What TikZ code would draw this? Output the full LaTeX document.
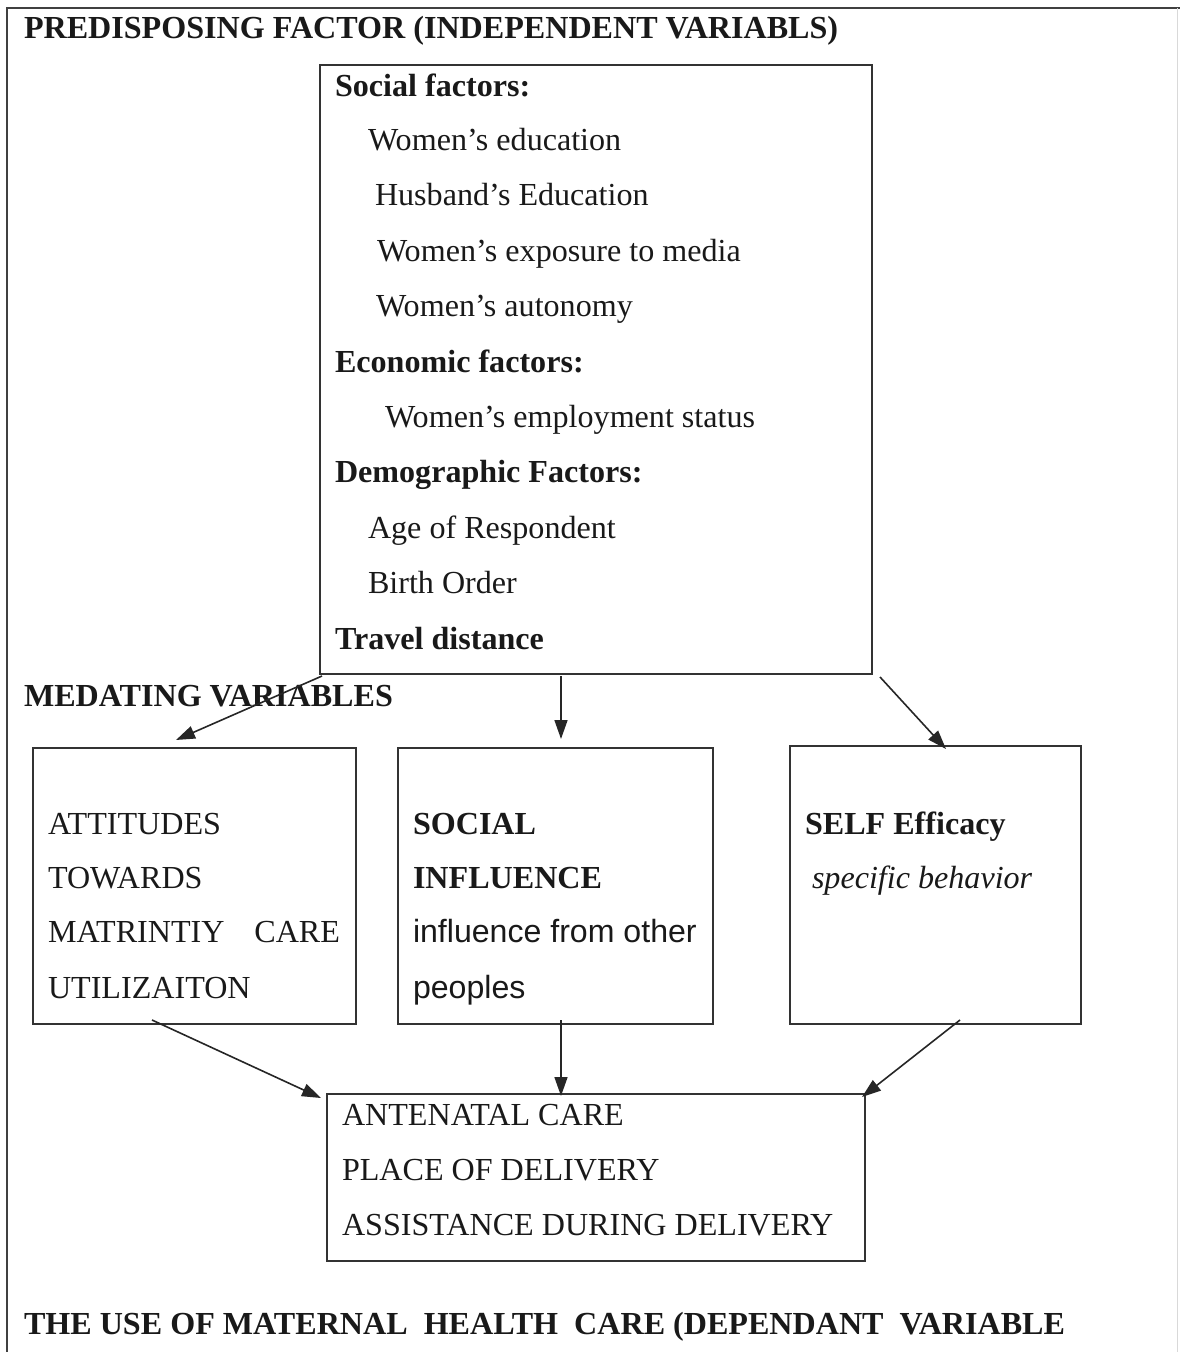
\documentclass[tikz,border=0pt]{standalone}
\usepackage{fontspec}
\setmainfont{Liberation Serif}
\newfontfamily\arialf{Liberation Sans}
\usetikzlibrary{arrows.meta}
\begin{document}
\begin{tikzpicture}[x=1pt,y=-1pt,
  every node/.style={inner sep=0pt,outer sep=0pt},
  txt/.style={anchor=base west,font=\fontsize{32.1}{37}\selectfont,text=black!90},
  btxt/.style={txt,font=\fontsize{32.1}{37}\selectfont\bfseries},
  boxst/.style={draw=black!80,line width=1.4pt,anchor=north west},
  arr/.style={draw=black!85,line width=1.6pt,-{Triangle[length=19pt,width=13pt]}}
]
\useasboundingbox (0,0) rectangle (1180,1352);
% outer frame
\draw[black!75,line width=1.6pt] (7,1352) -- (7,8) -- (1180,8);
\draw[black!15,line width=1pt] (1177,8) -- (1177,1352);

% titles
\node[btxt] (t1) at (24,38) {PREDISPOSING FACTOR (INDEPENDENT VARIABLS)};
\node[btxt] (t2) at (24,706) {MEDATING VARIABLES};
\node[btxt] (t3) at (24,1334) {THE USE OF MATERNAL\ \ HEALTH\ \ CARE (DEPENDANT\ \ VARIABLE};

% top box
\node[boxst,minimum width=552pt,minimum height=609pt] (pre) at (320,65) {};
\node[btxt] (p1) at (335,96) {Social factors:};
\node[txt] (p2) at (368,150) {Women’s education};
\node[txt] (p3) at (375,205) {Husband’s Education};
\node[txt] (p4) at (377,261) {Women’s exposure to media};
\node[txt] (p5) at (376,316) {Women’s autonomy};
\node[btxt] (p6) at (335,372) {Economic factors:};
\node[txt] (p7) at (385,427) {Women’s employment status};
\node[btxt] (p8) at (335,482) {Demographic Factors:};
\node[txt] (p9) at (368,538) {Age of Respondent};
\node[txt] (p10) at (368,593) {Birth Order};
\node[btxt] (p11) at (335,649) {Travel distance};

% middle boxes
\node[boxst,minimum width=323pt,minimum height=276pt] (att) at (33,748) {};
\node[txt] (a1) at (48,834) {ATTITUDES};
\node[txt] (a2) at (48,888) {TOWARDS};
\node[txt] (a3) at (48,942) {MATRINTIY};
\node[txt,anchor=base east] (a3b) at (340,942) {CARE};
\node[txt] (a4) at (48,998) {UTILIZAITON};

\node[boxst,minimum width=315pt,minimum height=276pt] (soc) at (398,748) {};
\node[btxt] (s1) at (413,834) {SOCIAL};
\node[btxt] (s2) at (413,888) {INFLUENCE};
\node[txt,font=\arialf\fontsize{32.1}{37}\selectfont] (s3) at (413,942) {influence from other};
\node[txt,font=\arialf\fontsize{32.1}{37}\selectfont] (s4) at (413,998) {peoples};

\node[boxst,minimum width=291pt,minimum height=278pt] (self) at (790,746) {};
\node[btxt] (e1) at (805,834) {SELF Efficacy};
\node[txt,font=\fontsize{32.1}{37}\selectfont\itshape] (e2) at (812,888) {specific behavior};

% bottom box
\node[boxst,minimum width=538pt,minimum height=167pt] (use) at (327,1094) {};
\node[txt] (u1) at (342,1125) {ANTENATAL CARE};
\node[txt] (u2) at (342,1180) {PLACE OF DELIVERY};
\node[txt] (u3) at (342,1235) {ASSISTANCE DURING DELIVERY};

% connector coordinates
\coordinate (c1s) at (322,676);
\coordinate (c1e) at (176,740);
\coordinate (c2s) at (561,676);
\coordinate (c2e) at (561,739);
\coordinate (c3s) at (880,677);
\coordinate (c3e) at (946,749);
\coordinate (c4s) at (152,1020);
\coordinate (c4e) at (321,1098);
\coordinate (c5s) at (561,1020);
\coordinate (c5e) at (561,1096);
\coordinate (c6s) at (960,1020);
\coordinate (c6e) at (862,1097);

\draw[arr] (c1s) -- (c1e);
\draw[arr] (c2s) -- (c2e);
\draw[arr] (c3s) -- (c3e);
\draw[arr] (c4s) -- (c4e);
\draw[arr] (c5s) -- (c5e);
\draw[arr] (c6s) -- (c6e);
\end{tikzpicture}
\end{document}
